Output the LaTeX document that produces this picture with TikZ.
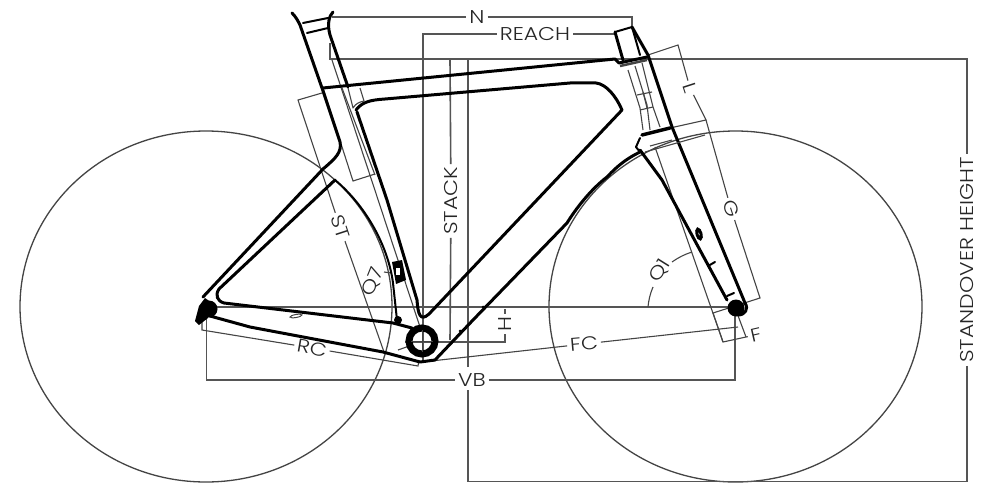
\documentclass[tikz,border=0pt]{standalone}
\usepackage{fontspec}
\setmainfont{Poppins Light}[FakeStretch=1.19]
\definecolor{dimc}{HTML}{555555}
\definecolor{thinc}{HTML}{444444}
\begin{document}
\begin{tikzpicture}[x=1pt,y=-1pt,
  wheel/.style={draw=thinc,line width=1.3pt},
  dimline/.style={draw=dimc,line width=1.6pt},
  refl/.style={draw=thinc,line width=1.1pt},
  frameline/.style={draw=black,line width=3pt,line join=round,line cap=round},
  framethin/.style={draw=black,line width=2pt,line join=round,line cap=round},
  graybit/.style={draw=thinc,line width=1.1pt,line join=round},
  lab/.style={font=\fontsize{18.5}{18.5}\selectfont,text=black!85,inner sep=3pt,outer sep=0pt}]
\useasboundingbox (0,0) rectangle (1000,500);
\fill[white] (0,0) rectangle (1000,500);
% wheels
\draw[wheel] (206,306.5) ellipse [x radius=186,y radius=175.5];
\draw[wheel] (735.5,306.5) ellipse [x radius=186.5,y radius=175.5];
% labels
\node[lab] (lN) at (477,17) {N};
\node[lab] (lREACH) at (535,34) {REACH};
\node[lab,rotate=90] (lSTACK) at (451,201) {STACK};
\node[lab,rotate=-72] (lST) at (340,227) {ST};
\node[lab,rotate=68] (lQ7) at (373,282) {Q7};
\node[lab,rotate=-10] (lRC) at (312,348) {RC};
\node[lab,rotate=90] (lH) at (505,324) {H};
\node[lab,rotate=5] (lFC) at (584,344) {FC};
\node[lab] (lVB) at (472,380) {VB};
\node[lab,rotate=58] (lQ1) at (660,271) {Q1};
\node[lab,rotate=-72] (lG) at (731,209) {G};
\node[lab,rotate=-72] (lL) at (690,88) {L};
\node[lab,rotate=13] (lF) at (756,335) {F};
\node[lab,rotate=90] (lSH) at (967,260) {STANDOVER HEIGHT};
% dimension coordinates
\coordinate (nA) at (332,17); \coordinate (nB) at (632,17); \coordinate (nC) at (632,28);
\coordinate (rA) at (423,34); \coordinate (rB) at (423,360); \coordinate (rC) at (615,34);
\coordinate (sA) at (450,60); \coordinate (sB) at (450,340);
\coordinate (tA) at (330,43); \coordinate (tB) at (330,59); \coordinate (tC) at (967,59); \coordinate (tD) at (967,481.5); \coordinate (tE) at (468,481.5); \coordinate (tF) at (468,390); \coordinate (tG) at (468,367); \coordinate (tH) at (468,60);
\coordinate (hA) at (205,307); \coordinate (hB) at (735,307);
\coordinate (bbA) at (405,342); \coordinate (bbB) at (505,342); \coordinate (bbC) at (505,337);
\coordinate (hTop) at (505,309);
\coordinate (vA) at (206.5,312); \coordinate (vB) at (206.5,380); \coordinate (vC) at (735,380); \coordinate (vD) at (735,316);
\coordinate (rcA) at (202,322); \coordinate (rcB) at (202,330); \coordinate (rcC) at (418,366); \coordinate (rcD) at (419,360);
\coordinate (fcA) at (422,362); \coordinate (fcB) at (738,327);
% dimension lines
\draw[dimline] (nA) -- (lN) -- (nB) -- (nC);
\draw[dimline] (rB) -- (rA) -- (lREACH) -- (rC);
\draw[dimline] (sA) -- (lSTACK) -- (sB);
\draw[dimline] (tA) -- (tB) -- (tC) -- (lSH) -- (tD) -- (tE) -- (tF);
\draw[dimline] (tG) -- (tH);
\draw[dimline] (hA) -- (hB);
\draw[dimline] (bbA) -- (bbB) -- (bbC);
\draw[dimline] (hTop) -- (lH) -- (bbC);
\draw[dimline] (vA) -- (vB) -- (lVB) -- (vC) -- (vD);
\draw[refl] (rcA) -- (rcB) -- (lRC) -- (rcC) -- (rcD);
\draw[refl] (fcA) -- (lFC) -- (fcB);
% reference boxes
\coordinate (stA) at (322,93); \coordinate (stB) at (298,100); \coordinate (stC) at (384,352);
\draw[refl] (stA) -- (stB) -- (lST) -- (stC);
\coordinate (q7C) at (384,272); \coordinate (q7D) at (391,273);
\draw[refl] (q7C) -- (q7D);
\draw[refl] (323,88) -- (353,181) -- (375,174);
\draw[refl] (332,60) -- (420,327);
\draw[refl] (342,88) -- (375,175);
\draw[refl] (398,350) -- (412,345);
\coordinate (fA) at (648,55); \coordinate (fB) at (678,45); \coordinate (fC) at (670,128); \coordinate (fD) at (706,120); \coordinate (fE) at (760,298); \coordinate (fF) at (713,313); \coordinate (fG) at (723,342); \coordinate (fH) at (746,337); \coordinate (fI) at (737,313);
\draw[refl] (fA) -- (fB) -- (lL) -- (fD) -- (fC);
\draw[refl] (fD) -- (lG) -- (fE) -- (fF) -- (fG) -- (fH) -- (lF);
\draw[refl] (fH) -- (fI);
\draw[refl] (655,147) -- (fG);
\coordinate (qA) at (648,307); \coordinate (qB) at (653,287); \coordinate (qC) at (672,262); \coordinate (qD) at (692,252);
\draw[refl] (qA) to[bend left=8] (qB);
\draw[refl] (qC) to[bend left=8] (qD);
% frame: front triangle
\draw[frameline] (292,13) .. controls (296,17) and (298,21) .. (300,25) -- (322,88) -- (340,142) .. controls (342,152) and (336,158) .. (323,169) -- (203,297);
\draw[frameline] (333,12) .. controls (329,16) and (327,24) .. (330,35) -- (348,87);
\draw[framethin] (303,23) -- (328,18);
\draw[framethin] (307,33) -- (328,28);
\draw[frameline] (323,88) -- (615,59) -- (619,63) -- (647,57);
\draw[frameline] (357,112) -- (387,200) -- (402,250) -- (417,300) .. controls (418,314) and (420,322) .. (429,314) -- (622,110) .. controls (616,96) and (606,84) .. (596,83) -- (570,83) -- (385,99) .. controls (370,100) and (362,102) .. (356,110);
\draw[graybit] (348,88) -- (353,108) .. controls (356,103) and (360,102) .. (364,101);
\draw[graybit] (360,88) -- (364,101);
% rear triangle
\draw[frameline] (335,180) -- (219,289) .. controls (215,295) and (217,301) .. (224,303) -- (393,323) -- (412,328);
\draw[framethin] (335,180) .. controls (365,205) and (388,245) .. (393,283) -- (397,320);
\draw[frameline] (210,316) -- (250,327) -- (383,352) -- (420,362) -- (435,360) -- (473,320) -- (567,223) .. controls (575,210) and (590,190) .. (607,177) .. controls (620,163) and (630,157) .. (640,152);
\fill[black] (209,309) circle [radius=8.5];
\fill[black] (195,321) -- (199,306) -- (205,298) -- (212,303) -- (208,318) -- (199,325) -- cycle;
\draw[black,line width=7pt] (422,341) circle [radius=13];
\draw[thinc,line width=1pt] (422,330) -- (422,352) (411,341) -- (433,341);
\fill[black] (392,262) -- (402,260) -- (406,280) -- (396,284) -- cycle;
\fill[white] (396,268) rectangle (400,275);
\fill[black] (398,320) circle [radius=4];
% head tube
\draw[framethin] (615,32) -- (632,27) -- (640,55);
\draw[frameline] (615,32) -- (623,60);
\draw[frameline] (632,27) -- (648,55) -- (672,127) -- (745,303);
\draw[graybit,line width=2.5pt] (620,66) -- (647,60);
\draw[graybit] (628,70) -- (640,108) -- (643,130);
\draw[graybit] (635,66) -- (647,105) -- (650,130);
\draw[graybit] (642,63) -- (653,107) -- (660,127);
\draw[graybit] (637,95) -- (652,92) (640,110) -- (653,107) (643,92) -- (647,108);
\draw[frameline,line width=3.5pt] (642,135) -- (670,128);
\draw[framethin] (640,138) -- (636,147) -- (640,152);
\draw[graybit] (645,152) -- (705,135);
\draw[graybit] (650,146) -- (672,140);
\draw[frameline] (640,150) -- (662,180) -- (727,300);
\fill[black] (736,308) circle [radius=8.5];
\draw[frameline] (745,303) .. controls (749,309) and (745,315) .. (738,315);
\draw[black,line width=3pt,rotate around={15:(699,234)}] (699,234) ellipse [x radius=2,y radius=5];
\draw[framethin] (708,266) -- (715,262);
\draw[framethin] (727,296) -- (734,293);
\draw[thinc,line width=1pt,rotate around={10:(296,316)}] (296,316) ellipse [x radius=6,y radius=1.5];
\fill[black] (460,331) circle [radius=1.5];
\fill[black] (483,307) circle [radius=1.5];
\end{tikzpicture}
\end{document}
